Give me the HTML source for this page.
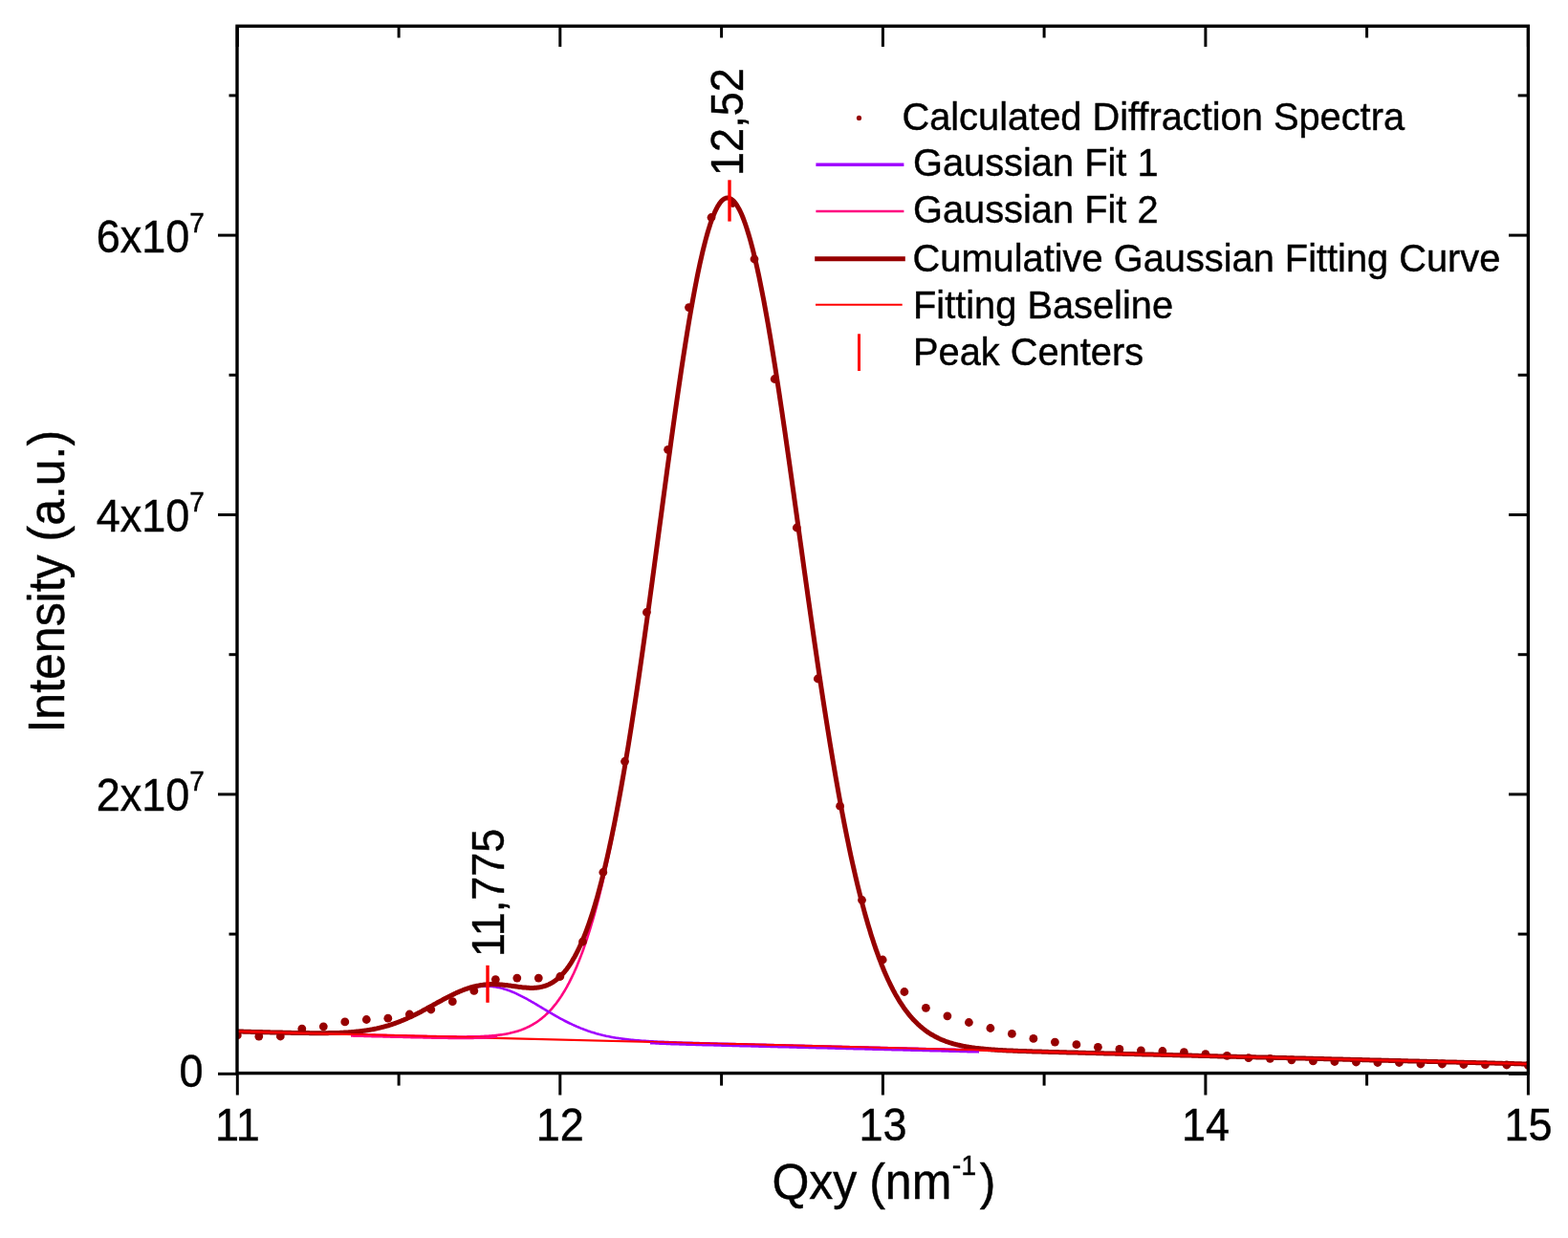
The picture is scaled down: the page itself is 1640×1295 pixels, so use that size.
<!DOCTYPE html>
<html><head><meta charset="utf-8"><title>Gaussian fit</title>
<style>html,body{margin:0;padding:0;background:#fff;}svg{display:block;}</style>
</head><body>
<svg width="1640" height="1295" viewBox="0 0 1640 1295">
<style>text{stroke:#000;stroke-width:0.4px;}</style>
<rect width="1640" height="1295" fill="#fff"/>
<defs><clipPath id="pc"><rect x="248.0" y="27.3" width="1350.4" height="1095.3"/></clipPath></defs>
<g clip-path="url(#pc)" fill="none" stroke-linejoin="round">
<path d="M367.0,1082.0 L368.0,1082.0 L369.0,1082.0 L370.0,1082.1 L371.0,1082.1 L372.0,1082.1 L373.0,1082.1 L374.0,1082.2 L375.0,1082.2 L376.0,1082.2 L377.0,1082.3 L378.0,1082.3 L379.0,1082.3 L380.0,1082.3 L381.0,1082.4 L382.0,1082.4 L383.0,1082.4 L384.0,1082.4 L385.0,1082.5 L386.0,1082.5 L387.0,1082.5 L388.0,1082.5 L389.0,1082.6 L390.0,1082.6 L391.0,1082.6 L392.0,1082.6 L393.0,1082.7 L394.0,1082.7 L395.0,1082.7 L396.0,1082.7 L397.0,1082.8 L398.0,1082.8 L399.0,1082.8 L400.0,1082.8 L401.0,1082.9 L402.0,1082.9 L403.0,1082.9 L404.0,1082.9 L405.0,1083.0 L406.0,1083.0 L407.0,1083.0 L408.0,1083.0 L409.0,1083.1 L410.0,1083.1 L411.0,1083.1 L412.0,1083.1 L413.0,1083.2 L414.0,1083.2 L415.0,1083.2 L416.0,1083.2 L417.0,1083.3 L418.0,1083.3 L419.0,1083.3 L420.0,1083.3 L421.0,1083.3 L422.0,1083.4 L423.0,1083.4 L424.0,1083.4 L425.0,1083.4 L426.0,1083.5 L427.0,1083.5 L428.0,1083.5 L429.0,1083.5 L430.0,1083.6 L431.0,1083.6 L432.0,1083.6 L433.0,1083.6 L434.0,1083.7 L435.0,1083.7 L436.0,1083.7 L437.0,1083.7 L438.0,1083.8 L439.0,1083.8 L440.0,1083.8 L441.0,1083.8 L442.0,1083.8 L443.0,1083.9 L444.0,1083.9 L445.0,1083.9 L446.0,1083.9 L447.0,1084.0 L448.0,1084.0 L449.0,1084.0 L450.0,1084.0 L451.0,1084.0 L452.0,1084.1 L453.0,1084.1 L454.0,1084.1 L455.0,1084.1 L456.0,1084.1 L457.0,1084.2 L458.0,1084.2 L459.0,1084.2 L460.0,1084.2 L461.0,1084.2 L462.0,1084.3 L463.0,1084.3 L464.0,1084.3 L465.0,1084.3 L466.0,1084.3 L467.0,1084.3 L468.0,1084.3 L469.0,1084.4 L470.0,1084.4 L471.0,1084.4 L472.0,1084.4 L473.0,1084.4 L474.0,1084.4 L475.0,1084.4 L476.0,1084.4 L477.0,1084.4 L478.0,1084.5 L479.0,1084.5 L480.0,1084.5 L481.0,1084.5 L482.0,1084.5 L483.0,1084.5 L484.0,1084.5 L485.0,1084.5 L486.0,1084.5 L487.0,1084.5 L488.0,1084.5 L489.0,1084.4 L490.0,1084.4 L491.0,1084.4 L492.0,1084.4 L493.0,1084.4 L494.0,1084.4 L495.0,1084.4 L496.0,1084.3 L497.0,1084.3 L498.0,1084.3 L499.0,1084.3 L500.0,1084.2 L501.0,1084.2 L502.0,1084.2 L503.0,1084.1 L504.0,1084.1 L505.0,1084.0 L506.0,1084.0 L507.0,1083.9 L508.0,1083.9 L509.0,1083.8 L510.0,1083.8 L511.0,1083.7 L512.0,1083.6 L513.0,1083.5 L514.0,1083.5 L515.0,1083.4 L516.0,1083.3 L517.0,1083.2 L518.0,1083.1 L519.0,1083.0 L520.0,1082.9 L521.0,1082.8 L522.0,1082.6 L523.0,1082.5 L524.0,1082.4 L525.0,1082.2 L526.0,1082.1 L527.0,1081.9 L528.0,1081.7 L529.0,1081.6 L530.0,1081.4 L531.0,1081.2 L532.0,1081.0 L533.0,1080.8 L534.0,1080.5 L535.0,1080.3 L536.0,1080.1 L537.0,1079.8 L538.0,1079.6 L539.0,1079.3 L540.0,1079.0 L541.0,1078.7 L542.0,1078.4 L543.0,1078.1 L544.0,1077.7 L545.0,1077.4 L546.0,1077.0 L547.0,1076.6 L548.0,1076.2 L549.0,1075.8 L550.0,1075.4 L551.0,1074.9 L552.0,1074.4 L553.0,1074.0 L554.0,1073.5 L555.0,1072.9 L556.0,1072.4 L557.0,1071.8 L558.0,1071.2 L559.0,1070.6 L560.0,1070.0 L561.0,1069.4 L562.0,1068.7 L563.0,1068.0 L564.0,1067.3 L565.0,1066.5 L566.0,1065.7 L567.0,1064.9 L568.0,1064.1 L569.0,1063.2 L570.0,1062.4 L571.0,1061.4 L572.0,1060.5 L573.0,1059.5 L574.0,1058.5 L575.0,1057.5 L576.0,1056.4 L577.0,1055.3 L578.0,1054.1 L579.0,1052.9 L580.0,1051.7 L581.0,1050.5 L582.0,1049.2 L583.0,1047.8 L584.0,1046.4 L585.0,1045.0 L586.0,1043.6 L587.0,1042.1 L588.0,1040.5 L589.0,1038.9 L590.0,1037.3 L591.0,1035.6 L592.0,1033.9 L593.0,1032.1 L594.0,1030.2 L595.0,1028.4 L596.0,1026.4 L597.0,1024.4 L598.0,1022.4 L599.0,1020.3 L600.0,1018.2 L601.0,1015.9 L602.0,1013.7 L603.0,1011.4 L604.0,1009.0 L605.0,1006.6 L606.0,1004.1 L607.0,1001.5 L608.0,998.9 L609.0,996.2 L610.0,993.5 L611.0,990.6 L612.0,987.8 L613.0,984.8 L614.0,981.8 L615.0,978.7 L616.0,975.6 L617.0,972.4 L618.0,969.1 L619.0,965.7 L620.0,962.3 L621.0,958.8 L622.0,955.3 L623.0,951.6 L624.0,947.9 L625.0,944.1 L626.0,940.3 L627.0,936.3 L628.0,932.3 L629.0,928.2 L630.0,924.0 L631.0,919.8 L632.0,915.5 L633.0,911.1 L634.0,906.6 L635.0,902.1 L636.0,897.5 L637.0,892.7 L638.0,888.0 L639.0,883.1 L640.0,878.2 L641.0,873.2 L642.0,868.1 L643.0,862.9 L644.0,857.7 L645.0,852.3 L646.0,846.9 L647.0,841.5 L648.0,835.9 L649.0,830.3 L650.0,824.6 L651.0,818.8 L652.0,813.0 L653.0,807.1 L654.0,801.1 L655.0,795.0 L656.0,788.9 L657.0,782.7 L658.0,776.5 L659.0,770.1 L660.0,763.8 L661.0,757.3 L662.0,750.8 L663.0,744.2 L664.0,737.6 L665.0,730.9 L666.0,724.1 L667.0,717.3 L668.0,710.4 L669.0,703.5 L670.0,696.6 L671.0,689.5 L672.0,682.5 L673.0,675.4 L674.0,668.2 L675.0,661.1 L676.0,653.8 L677.0,646.6 L678.0,639.3 L679.0,632.0 L680.0,624.6 L681.0,617.2 L682.0,609.8 L683.0,602.4 L684.0,595.0 L685.0,587.5 L686.0,580.1 L687.0,572.6 L688.0,565.1 L689.0,557.6 L690.0,550.1 L691.0,542.6 L692.0,535.1 L693.0,527.7 L694.0,520.2 L695.0,512.7 L696.0,505.3 L697.0,497.9 L698.0,490.5 L699.0,483.1 L700.0,475.8" stroke="#FF0080" stroke-width="2.6"/>
<path d="M420.0,1067.8 L421.0,1067.4 L422.0,1067.0 L423.0,1066.6 L424.0,1066.1 L425.0,1065.7 L426.0,1065.3 L427.0,1064.8 L428.0,1064.3 L429.0,1063.9 L430.0,1063.4 L431.0,1062.9 L432.0,1062.5 L433.0,1062.0 L434.0,1061.5 L435.0,1061.0 L436.0,1060.5 L437.0,1060.0 L438.0,1059.5 L439.0,1059.0 L440.0,1058.4 L441.0,1057.9 L442.0,1057.4 L443.0,1056.9 L444.0,1056.3 L445.0,1055.8 L446.0,1055.2 L447.0,1054.7 L448.0,1054.2 L449.0,1053.6 L450.0,1053.1 L451.0,1052.5 L452.0,1052.0 L453.0,1051.4 L454.0,1050.9 L455.0,1050.3 L456.0,1049.8 L457.0,1049.2 L458.0,1048.7 L459.0,1048.1 L460.0,1047.6 L461.0,1047.0 L462.0,1046.5 L463.0,1046.0 L464.0,1045.5 L465.0,1044.9 L466.0,1044.4 L467.0,1043.9 L468.0,1043.4 L469.0,1042.9 L470.0,1042.4 L471.0,1041.9 L472.0,1041.4 L473.0,1040.9 L474.0,1040.5 L475.0,1040.0 L476.0,1039.5 L477.0,1039.1 L478.0,1038.7 L479.0,1038.2 L480.0,1037.8 L481.0,1037.4 L482.0,1037.0 L483.0,1036.7 L484.0,1036.3 L485.0,1035.9 L486.0,1035.6 L487.0,1035.2 L488.0,1034.9 L489.0,1034.6 L490.0,1034.3 L491.0,1034.0 L492.0,1033.8 L493.0,1033.5 L494.0,1033.3 L495.0,1033.1 L496.0,1032.9 L497.0,1032.7 L498.0,1032.5 L499.0,1032.3 L500.0,1032.2 L501.0,1032.0 L502.0,1031.9 L503.0,1031.8 L504.0,1031.7 L505.0,1031.7 L506.0,1031.6 L507.0,1031.6 L508.0,1031.6 L509.0,1031.6 L510.0,1031.6 L511.0,1031.6 L512.0,1031.7 L513.0,1031.8 L514.0,1031.8 L515.0,1031.9 L516.0,1032.1 L517.0,1032.2 L518.0,1032.3 L519.0,1032.5 L520.0,1032.7 L521.0,1032.9 L522.0,1033.1 L523.0,1033.3 L524.0,1033.6 L525.0,1033.8 L526.0,1034.1 L527.0,1034.4 L528.0,1034.7 L529.0,1035.0 L530.0,1035.3 L531.0,1035.7 L532.0,1036.0 L533.0,1036.4 L534.0,1036.8 L535.0,1037.2 L536.0,1037.6 L537.0,1038.0 L538.0,1038.4 L539.0,1038.9 L540.0,1039.3 L541.0,1039.8 L542.0,1040.3 L543.0,1040.8 L544.0,1041.3 L545.0,1041.8 L546.0,1042.3 L547.0,1042.8 L548.0,1043.3 L549.0,1043.9 L550.0,1044.4 L551.0,1044.9 L552.0,1045.5 L553.0,1046.1 L554.0,1046.6 L555.0,1047.2 L556.0,1047.8 L557.0,1048.3 L558.0,1048.9 L559.0,1049.5 L560.0,1050.1 L561.0,1050.7 L562.0,1051.3 L563.0,1051.9 L564.0,1052.5 L565.0,1053.1 L566.0,1053.7 L567.0,1054.3 L568.0,1054.9 L569.0,1055.5 L570.0,1056.1 L571.0,1056.7 L572.0,1057.3 L573.0,1057.9 L574.0,1058.5 L575.0,1059.1 L576.0,1059.6 L577.0,1060.2 L578.0,1060.8 L579.0,1061.4 L580.0,1062.0 L581.0,1062.5 L582.0,1063.1 L583.0,1063.7 L584.0,1064.2 L585.0,1064.8 L586.0,1065.3 L587.0,1065.9 L588.0,1066.4 L589.0,1066.9 L590.0,1067.5 L591.0,1068.0 L592.0,1068.5 L593.0,1069.0 L594.0,1069.5 L595.0,1070.0 L596.0,1070.5 L597.0,1070.9 L598.0,1071.4 L599.0,1071.9 L600.0,1072.3 L601.0,1072.8 L602.0,1073.2 L603.0,1073.7 L604.0,1074.1 L605.0,1074.5 L606.0,1074.9 L607.0,1075.4 L608.0,1075.8 L609.0,1076.1 L610.0,1076.5 L611.0,1076.9 L612.0,1077.3 L613.0,1077.6 L614.0,1078.0 L615.0,1078.4 L616.0,1078.7 L617.0,1079.0 L618.0,1079.4 L619.0,1079.7 L620.0,1080.0 L621.0,1080.3 L622.0,1080.6 L623.0,1080.9 L624.0,1081.2 L625.0,1081.4 L626.0,1081.7 L627.0,1082.0 L628.0,1082.2 L629.0,1082.5 L630.0,1082.7 L631.0,1083.0 L632.0,1083.2 L633.0,1083.4 L634.0,1083.7 L635.0,1083.9 L636.0,1084.1 L637.0,1084.3 L638.0,1084.5 L639.0,1084.7 L640.0,1084.9 L641.0,1085.1 L642.0,1085.2 L643.0,1085.4 L644.0,1085.6 L645.0,1085.7 L646.0,1085.9 L647.0,1086.0 L648.0,1086.2 L649.0,1086.3 L650.0,1086.5 L651.0,1086.6 L652.0,1086.8 L653.0,1086.9 L654.0,1087.0 L655.0,1087.1 L656.0,1087.3 L657.0,1087.4 L658.0,1087.5 L659.0,1087.6 L660.0,1087.7 L661.0,1087.8 L662.0,1087.9 L663.0,1088.0 L664.0,1088.1 L665.0,1088.2 L666.0,1088.3 L667.0,1088.3 L668.0,1088.4 L669.0,1088.5 L670.0,1088.6 L671.0,1088.7 L672.0,1088.7 L673.0,1088.8 L674.0,1088.9 L675.0,1088.9 L676.0,1089.0 L677.0,1089.1 L678.0,1089.1 L679.0,1089.2 L680.0,1089.3 L681.0,1089.3 L682.0,1089.4 L683.0,1089.4 L684.0,1089.5 L685.0,1089.5 L686.0,1089.6 L687.0,1089.6 L688.0,1089.7 L689.0,1089.7 L690.0,1089.8 L691.0,1089.8 L692.0,1089.9 L693.0,1089.9 L694.0,1089.9 L695.0,1090.0 L696.0,1090.0 L697.0,1090.1 L698.0,1090.1 L699.0,1090.1 L700.0,1090.2 L701.0,1090.2 L702.0,1090.3 L703.0,1090.3 L704.0,1090.3 L705.0,1090.4 L706.0,1090.4 L707.0,1090.4 L708.0,1090.5 L709.0,1090.5 L710.0,1090.5 L711.0,1090.6 L712.0,1090.6 L713.0,1090.6 L714.0,1090.7 L715.0,1090.7 L716.0,1090.7 L717.0,1090.7 L718.0,1090.8 L719.0,1090.8 L720.0,1090.8 L721.0,1090.9 L722.0,1090.9 L723.0,1090.9 L724.0,1090.9 L725.0,1091.0 L726.0,1091.0 L727.0,1091.0 L728.0,1091.1 L729.0,1091.1 L730.0,1091.1 L731.0,1091.1 L732.0,1091.2 L733.0,1091.2 L734.0,1091.2 L735.0,1091.3 L736.0,1091.3 L737.0,1091.3 L738.0,1091.3 L739.0,1091.4 L740.0,1091.4 L741.0,1091.4 L742.0,1091.4 L743.0,1091.5 L744.0,1091.5 L745.0,1091.5 L746.0,1091.5 L747.0,1091.6 L748.0,1091.6 L749.0,1091.6 L750.0,1091.6 L751.0,1091.7 L752.0,1091.7 L753.0,1091.7 L754.0,1091.7 L755.0,1091.8 L756.0,1091.8 L757.0,1091.8 L758.0,1091.8 L759.0,1091.9 L760.0,1091.9 L761.0,1091.9 L762.0,1091.9 L763.0,1092.0 L764.0,1092.0 L765.0,1092.0 L766.0,1092.1 L767.0,1092.1 L768.0,1092.1 L769.0,1092.1 L770.0,1092.2 L771.0,1092.2 L772.0,1092.2 L773.0,1092.2 L774.0,1092.3 L775.0,1092.3 L776.0,1092.3 L777.0,1092.3 L778.0,1092.4 L779.0,1092.4 L780.0,1092.4 L781.0,1092.4 L782.0,1092.5 L783.0,1092.5 L784.0,1092.5 L785.0,1092.5 L786.0,1092.6 L787.0,1092.6 L788.0,1092.6 L789.0,1092.6 L790.0,1092.7 L791.0,1092.7 L792.0,1092.7 L793.0,1092.7 L794.0,1092.8 L795.0,1092.8 L796.0,1092.8 L797.0,1092.8 L798.0,1092.9 L799.0,1092.9 L800.0,1092.9 L801.0,1092.9 L802.0,1093.0 L803.0,1093.0 L804.0,1093.0 L805.0,1093.0 L806.0,1093.1 L807.0,1093.1 L808.0,1093.1 L809.0,1093.1 L810.0,1093.2 L811.0,1093.2 L812.0,1093.2 L813.0,1093.2 L814.0,1093.3 L815.0,1093.3 L816.0,1093.3 L817.0,1093.3 L818.0,1093.4 L819.0,1093.4 L820.0,1093.4 L821.0,1093.4 L822.0,1093.5 L823.0,1093.5 L824.0,1093.5 L825.0,1093.5 L826.0,1093.6 L827.0,1093.6 L828.0,1093.6 L829.0,1093.6 L830.0,1093.7 L831.0,1093.7 L832.0,1093.7 L833.0,1093.7 L834.0,1093.8 L835.0,1093.8 L836.0,1093.8 L837.0,1093.8 L838.0,1093.9 L839.0,1093.9 L840.0,1093.9 L841.0,1093.9 L842.0,1094.0 L843.0,1094.0 L844.0,1094.0 L845.0,1094.0 L846.0,1094.1 L847.0,1094.1 L848.0,1094.1 L849.0,1094.1 L850.0,1094.2 L851.0,1094.2 L852.0,1094.2 L853.0,1094.2 L854.0,1094.3 L855.0,1094.3 L856.0,1094.3 L857.0,1094.3 L858.0,1094.4 L859.0,1094.4 L860.0,1094.4 L861.0,1094.4 L862.0,1094.5 L863.0,1094.5 L864.0,1094.5 L865.0,1094.5 L866.0,1094.6 L867.0,1094.6 L868.0,1094.6 L869.0,1094.6 L870.0,1094.7 L871.0,1094.7 L872.0,1094.7 L873.0,1094.7 L874.0,1094.8 L875.0,1094.8 L876.0,1094.8 L877.0,1094.9 L878.0,1094.9 L879.0,1094.9 L880.0,1094.9 L881.0,1095.0 L882.0,1095.0 L883.0,1095.0 L884.0,1095.0 L885.0,1095.1 L886.0,1095.1 L887.0,1095.1 L888.0,1095.1 L889.0,1095.2 L890.0,1095.2 L891.0,1095.2 L892.0,1095.2 L893.0,1095.3 L894.0,1095.3 L895.0,1095.3 L896.0,1095.3 L897.0,1095.4 L898.0,1095.4 L899.0,1095.4 L900.0,1095.4 L901.0,1095.5 L902.0,1095.5 L903.0,1095.5 L904.0,1095.5 L905.0,1095.6 L906.0,1095.6 L907.0,1095.6 L908.0,1095.6 L909.0,1095.7 L910.0,1095.7 L911.0,1095.7 L912.0,1095.7 L913.0,1095.8 L914.0,1095.8 L915.0,1095.8 L916.0,1095.8 L917.0,1095.9 L918.0,1095.9 L919.0,1095.9 L920.0,1095.9 L921.0,1096.0 L922.0,1096.0 L923.0,1096.0 L924.0,1096.0 L925.0,1096.1 L926.0,1096.1 L927.0,1096.1 L928.0,1096.1 L929.0,1096.2 L930.0,1096.2 L931.0,1096.2 L932.0,1096.2 L933.0,1096.3 L934.0,1096.3 L935.0,1096.3 L936.0,1096.3 L937.0,1096.4 L938.0,1096.4 L939.0,1096.4 L940.0,1096.4 L941.0,1096.5 L942.0,1096.5 L943.0,1096.5 L944.0,1096.5 L945.0,1096.6 L946.0,1096.6 L947.0,1096.6 L948.0,1096.6 L949.0,1096.7 L950.0,1096.7 L951.0,1096.7 L952.0,1096.7 L953.0,1096.8 L954.0,1096.8 L955.0,1096.8 L956.0,1096.8 L957.0,1096.9 L958.0,1096.9 L959.0,1096.9 L960.0,1096.9 L961.0,1097.0 L962.0,1097.0 L963.0,1097.0 L964.0,1097.0 L965.0,1097.1 L966.0,1097.1 L967.0,1097.1 L968.0,1097.1 L969.0,1097.2 L970.0,1097.2 L971.0,1097.2 L972.0,1097.2 L973.0,1097.3 L974.0,1097.3 L975.0,1097.3 L976.0,1097.3 L977.0,1097.4 L978.0,1097.4 L979.0,1097.4 L980.0,1097.4 L981.0,1097.5 L982.0,1097.5 L983.0,1097.5 L984.0,1097.5 L985.0,1097.6 L986.0,1097.6 L987.0,1097.6 L988.0,1097.6 L989.0,1097.7 L990.0,1097.7 L991.0,1097.7 L992.0,1097.7 L993.0,1097.8 L994.0,1097.8 L995.0,1097.8 L996.0,1097.8 L997.0,1097.9 L998.0,1097.9 L999.0,1097.9 L1000.0,1098.0 L1001.0,1098.0 L1002.0,1098.0 L1003.0,1098.0 L1004.0,1098.1 L1005.0,1098.1 L1006.0,1098.1 L1007.0,1098.1 L1008.0,1098.2 L1009.0,1098.2 L1010.0,1098.2 L1011.0,1098.2 L1012.0,1098.3 L1013.0,1098.3 L1014.0,1098.3 L1015.0,1098.3 L1016.0,1098.4 L1017.0,1098.4 L1018.0,1098.4 L1019.0,1098.4 L1020.0,1098.5 L1021.0,1098.5 L1022.0,1098.5 L1023.0,1098.5 L1024.0,1098.6" stroke="#A000FF" stroke-width="2.6"/>
</g>
<g fill="#960000" clip-path="url(#pc)">
<circle cx="248.3" cy="1083.0" r="4.4"/>
<circle cx="270.8" cy="1084.1" r="4.4"/>
<circle cx="293.3" cy="1084.0" r="4.4"/>
<circle cx="315.8" cy="1076.2" r="4.4"/>
<circle cx="338.3" cy="1073.8" r="4.4"/>
<circle cx="360.8" cy="1068.9" r="4.4"/>
<circle cx="383.3" cy="1066.5" r="4.4"/>
<circle cx="405.8" cy="1065.2" r="4.4"/>
<circle cx="428.3" cy="1061.0" r="4.4"/>
<circle cx="450.8" cy="1056.0" r="4.4"/>
<circle cx="473.3" cy="1047.7" r="4.4"/>
<circle cx="495.8" cy="1036.4" r="4.4"/>
<circle cx="518.3" cy="1024.6" r="4.4"/>
<circle cx="540.8" cy="1023.1" r="4.4"/>
<circle cx="563.3" cy="1023.1" r="4.4"/>
<circle cx="585.8" cy="1021.5" r="4.4"/>
<circle cx="609.5" cy="985.0" r="4.4"/>
<circle cx="630.8" cy="912.5" r="4.4"/>
<circle cx="653.5" cy="796.5" r="4.4"/>
<circle cx="676.4" cy="640.5" r="4.4"/>
<circle cx="698.6" cy="470.3" r="4.4"/>
<circle cx="720.5" cy="321.6" r="4.4"/>
<circle cx="744.0" cy="227.5" r="4.4"/>
<circle cx="766.3" cy="212.5" r="4.4"/>
<circle cx="789.0" cy="271.0" r="4.4"/>
<circle cx="810.2" cy="396.5" r="4.4"/>
<circle cx="833.3" cy="552.0" r="4.4"/>
<circle cx="855.3" cy="710.0" r="4.4"/>
<circle cx="878.6" cy="843.2" r="4.4"/>
<circle cx="901.5" cy="941.5" r="4.4"/>
<circle cx="923.2" cy="1004.0" r="4.4"/>
<circle cx="945.9" cy="1037.5" r="4.4"/>
<circle cx="968.4" cy="1054.3" r="4.4"/>
<circle cx="990.9" cy="1062.8" r="4.4"/>
<circle cx="1013.4" cy="1069.5" r="4.4"/>
<circle cx="1035.9" cy="1075.5" r="4.4"/>
<circle cx="1058.4" cy="1081.4" r="4.4"/>
<circle cx="1080.9" cy="1086.4" r="4.4"/>
<circle cx="1103.4" cy="1090.1" r="4.4"/>
<circle cx="1125.9" cy="1092.7" r="4.4"/>
<circle cx="1148.4" cy="1095.3" r="4.4"/>
<circle cx="1170.9" cy="1097.4" r="4.4"/>
<circle cx="1193.4" cy="1098.8" r="4.4"/>
<circle cx="1215.9" cy="1099.5" r="4.4"/>
<circle cx="1238.4" cy="1100.7" r="4.4"/>
<circle cx="1260.9" cy="1102.7" r="4.4"/>
<circle cx="1283.4" cy="1104.4" r="4.4"/>
<circle cx="1305.9" cy="1106.7" r="4.4"/>
<circle cx="1328.4" cy="1107.3" r="4.4"/>
<circle cx="1350.9" cy="1108.8" r="4.4"/>
<circle cx="1373.4" cy="1109.9" r="4.4"/>
<circle cx="1395.9" cy="1110.5" r="4.4"/>
<circle cx="1418.4" cy="1111.0" r="4.4"/>
<circle cx="1440.9" cy="1111.5" r="4.4"/>
<circle cx="1463.4" cy="1111.5" r="4.4"/>
<circle cx="1485.9" cy="1113.0" r="4.4"/>
<circle cx="1508.4" cy="1113.0" r="4.4"/>
<circle cx="1530.9" cy="1113.5" r="4.4"/>
<circle cx="1553.4" cy="1113.7" r="4.4"/>
<circle cx="1575.9" cy="1114.0" r="4.4"/>
<circle cx="1598.4" cy="1114.5" r="4.4"/>
</g>
<g clip-path="url(#pc)" fill="none" stroke-linejoin="round">
<path d="M248.0,1079.0 L249.0,1079.0 L250.0,1079.0 L251.0,1079.1 L252.0,1079.1 L253.0,1079.1 L254.0,1079.1 L255.0,1079.2 L256.0,1079.2 L257.0,1079.2 L258.0,1079.2 L259.0,1079.3 L260.0,1079.3 L261.0,1079.3 L262.0,1079.3 L263.0,1079.4 L264.0,1079.4 L265.0,1079.4 L266.0,1079.4 L267.0,1079.5 L268.0,1079.5 L269.0,1079.5 L270.0,1079.5 L271.0,1079.6 L272.0,1079.6 L273.0,1079.6 L274.0,1079.6 L275.0,1079.7 L276.0,1079.7 L277.0,1079.7 L278.0,1079.7 L279.0,1079.8 L280.0,1079.8 L281.0,1079.8 L282.0,1079.8 L283.0,1079.9 L284.0,1079.9 L285.0,1079.9 L286.0,1079.9 L287.0,1080.0 L288.0,1080.0 L289.0,1080.0 L290.0,1080.0 L291.0,1080.0 L292.0,1080.1 L293.0,1080.1 L294.0,1080.1 L295.0,1080.1 L296.0,1080.2 L297.0,1080.2 L298.0,1080.2 L299.0,1080.2 L300.0,1080.2 L301.0,1080.3 L302.0,1080.3 L303.0,1080.3 L304.0,1080.3 L305.0,1080.4 L306.0,1080.4 L307.0,1080.4 L308.0,1080.4 L309.0,1080.4 L310.0,1080.4 L311.0,1080.5 L312.0,1080.5 L313.0,1080.5 L314.0,1080.5 L315.0,1080.5 L316.0,1080.5 L317.0,1080.6 L318.0,1080.6 L319.0,1080.6 L320.0,1080.6 L321.0,1080.6 L322.0,1080.6 L323.0,1080.6 L324.0,1080.7 L325.0,1080.7 L326.0,1080.7 L327.0,1080.7 L328.0,1080.7 L329.0,1080.7 L330.0,1080.7 L331.0,1080.7 L332.0,1080.7 L333.0,1080.7 L334.0,1080.7 L335.0,1080.7 L336.0,1080.7 L337.0,1080.7 L338.0,1080.7 L339.0,1080.7 L340.0,1080.7 L341.0,1080.7 L342.0,1080.7 L343.0,1080.7 L344.0,1080.6 L345.0,1080.6 L346.0,1080.6 L347.0,1080.6 L348.0,1080.6 L349.0,1080.5 L350.0,1080.5 L351.0,1080.5 L352.0,1080.5 L353.0,1080.4 L354.0,1080.4 L355.0,1080.4 L356.0,1080.3 L357.0,1080.3 L358.0,1080.2 L359.0,1080.2 L360.0,1080.1 L361.0,1080.1 L362.0,1080.0 L363.0,1080.0 L364.0,1079.9 L365.0,1079.8 L366.0,1079.8 L367.0,1079.7 L368.0,1079.6 L369.0,1079.5 L370.0,1079.4 L371.0,1079.3 L372.0,1079.2 L373.0,1079.1 L374.0,1079.0 L375.0,1078.9 L376.0,1078.8 L377.0,1078.7 L378.0,1078.6 L379.0,1078.5 L380.0,1078.3 L381.0,1078.2 L382.0,1078.0 L383.0,1077.9 L384.0,1077.7 L385.0,1077.6 L386.0,1077.4 L387.0,1077.2 L388.0,1077.1 L389.0,1076.9 L390.0,1076.7 L391.0,1076.5 L392.0,1076.3 L393.0,1076.1 L394.0,1075.9 L395.0,1075.6 L396.0,1075.4 L397.0,1075.2 L398.0,1074.9 L399.0,1074.7 L400.0,1074.4 L401.0,1074.2 L402.0,1073.9 L403.0,1073.6 L404.0,1073.3 L405.0,1073.1 L406.0,1072.8 L407.0,1072.5 L408.0,1072.1 L409.0,1071.8 L410.0,1071.5 L411.0,1071.2 L412.0,1070.8 L413.0,1070.5 L414.0,1070.1 L415.0,1069.7 L416.0,1069.4 L417.0,1069.0 L418.0,1068.6 L419.0,1068.2 L420.0,1067.8 L421.0,1067.4 L422.0,1067.0 L423.0,1066.6 L424.0,1066.1 L425.0,1065.7 L426.0,1065.2 L427.0,1064.8 L428.0,1064.3 L429.0,1063.9 L430.0,1063.4 L431.0,1062.9 L432.0,1062.4 L433.0,1062.0 L434.0,1061.5 L435.0,1061.0 L436.0,1060.5 L437.0,1060.0 L438.0,1059.4 L439.0,1058.9 L440.0,1058.4 L441.0,1057.9 L442.0,1057.3 L443.0,1056.8 L444.0,1056.3 L445.0,1055.7 L446.0,1055.2 L447.0,1054.6 L448.0,1054.1 L449.0,1053.5 L450.0,1053.0 L451.0,1052.4 L452.0,1051.9 L453.0,1051.3 L454.0,1050.8 L455.0,1050.2 L456.0,1049.7 L457.0,1049.1 L458.0,1048.6 L459.0,1048.0 L460.0,1047.5 L461.0,1046.9 L462.0,1046.4 L463.0,1045.8 L464.0,1045.3 L465.0,1044.8 L466.0,1044.2 L467.0,1043.7 L468.0,1043.2 L469.0,1042.7 L470.0,1042.2 L471.0,1041.7 L472.0,1041.2 L473.0,1040.7 L474.0,1040.2 L475.0,1039.7 L476.0,1039.2 L477.0,1038.8 L478.0,1038.3 L479.0,1037.9 L480.0,1037.4 L481.0,1037.0 L482.0,1036.6 L483.0,1036.2 L484.0,1035.8 L485.0,1035.4 L486.0,1035.0 L487.0,1034.7 L488.0,1034.3 L489.0,1034.0 L490.0,1033.7 L491.0,1033.3 L492.0,1033.0 L493.0,1032.7 L494.0,1032.5 L495.0,1032.2 L496.0,1031.9 L497.0,1031.7 L498.0,1031.5 L499.0,1031.3 L500.0,1031.1 L501.0,1030.9 L502.0,1030.7 L503.0,1030.5 L504.0,1030.4 L505.0,1030.3 L506.0,1030.1 L507.0,1030.0 L508.0,1029.9 L509.0,1029.8 L510.0,1029.8 L511.0,1029.7 L512.0,1029.7 L513.0,1029.6 L514.0,1029.6 L515.0,1029.6 L516.0,1029.6 L517.0,1029.6 L518.0,1029.6 L519.0,1029.7 L520.0,1029.7 L521.0,1029.8 L522.0,1029.8 L523.0,1029.9 L524.0,1030.0 L525.0,1030.1 L526.0,1030.2 L527.0,1030.3 L528.0,1030.4 L529.0,1030.5 L530.0,1030.6 L531.0,1030.7 L532.0,1030.9 L533.0,1031.0 L534.0,1031.1 L535.0,1031.3 L536.0,1031.4 L537.0,1031.6 L538.0,1031.7 L539.0,1031.8 L540.0,1032.0 L541.0,1032.1 L542.0,1032.3 L543.0,1032.4 L544.0,1032.5 L545.0,1032.6 L546.0,1032.8 L547.0,1032.9 L548.0,1033.0 L549.0,1033.1 L550.0,1033.1 L551.0,1033.2 L552.0,1033.3 L553.0,1033.3 L554.0,1033.4 L555.0,1033.4 L556.0,1033.4 L557.0,1033.4 L558.0,1033.4 L559.0,1033.3 L560.0,1033.3 L561.0,1033.2 L562.0,1033.1 L563.0,1032.9 L564.0,1032.8 L565.0,1032.6 L566.0,1032.4 L567.0,1032.2 L568.0,1031.9 L569.0,1031.6 L570.0,1031.3 L571.0,1031.0 L572.0,1030.6 L573.0,1030.2 L574.0,1029.8 L575.0,1029.3 L576.0,1028.8 L577.0,1028.2 L578.0,1027.6 L579.0,1027.0 L580.0,1026.3 L581.0,1025.6 L582.0,1024.8 L583.0,1024.0 L584.0,1023.2 L585.0,1022.3 L586.0,1021.4 L587.0,1020.4 L588.0,1019.3 L589.0,1018.2 L590.0,1017.1 L591.0,1015.9 L592.0,1014.7 L593.0,1013.4 L594.0,1012.0 L595.0,1010.6 L596.0,1009.1 L597.0,1007.6 L598.0,1006.0 L599.0,1004.3 L600.0,1002.6 L601.0,1000.9 L602.0,999.0 L603.0,997.1 L604.0,995.1 L605.0,993.1 L606.0,991.0 L607.0,988.8 L608.0,986.6 L609.0,984.3 L610.0,981.9 L611.0,979.4 L612.0,976.9 L613.0,974.3 L614.0,971.6 L615.0,968.8 L616.0,966.0 L617.0,963.1 L618.0,960.1 L619.0,957.1 L620.0,953.9 L621.0,950.7 L622.0,947.4 L623.0,944.1 L624.0,940.6 L625.0,937.1 L626.0,933.4 L627.0,929.7 L628.0,926.0 L629.0,922.1 L630.0,918.2 L631.0,914.1 L632.0,910.0 L633.0,905.8 L634.0,901.6 L635.0,897.2 L636.0,892.8 L637.0,888.2 L638.0,883.6 L639.0,878.9 L640.0,874.2 L641.0,869.3 L642.0,864.4 L643.0,859.4 L644.0,854.3 L645.0,849.1 L646.0,843.8 L647.0,838.5 L648.0,833.0 L649.0,827.5 L650.0,822.0 L651.0,816.3 L652.0,810.6 L653.0,804.8 L654.0,798.9 L655.0,792.9 L656.0,786.9 L657.0,780.8 L658.0,774.6 L659.0,768.4 L660.0,762.1 L661.0,755.7 L662.0,749.2 L663.0,742.7 L664.0,736.2 L665.0,729.5 L666.0,722.8 L667.0,716.1 L668.0,709.3 L669.0,702.4 L670.0,695.5 L671.0,688.5 L672.0,681.5 L673.0,674.5 L674.0,667.4 L675.0,660.2 L676.0,653.1 L677.0,645.8 L678.0,638.6 L679.0,631.3 L680.0,624.0 L681.0,616.6 L682.0,609.3 L683.0,601.9 L684.0,594.5 L685.0,587.0 L686.0,579.6 L687.0,572.1 L688.0,564.7 L689.0,557.2 L690.0,549.7 L691.0,542.3 L692.0,534.8 L693.0,527.3 L694.0,519.9 L695.0,512.5 L696.0,505.0 L697.0,497.6 L698.0,490.2 L699.0,482.9 L700.0,475.6 L701.0,468.3 L702.0,461.0 L703.0,453.8 L704.0,446.6 L705.0,439.5 L706.0,432.4 L707.0,425.4 L708.0,418.4 L709.0,411.5 L710.0,404.6 L711.0,397.8 L712.0,391.1 L713.0,384.4 L714.0,377.9 L715.0,371.4 L716.0,365.0 L717.0,358.6 L718.0,352.4 L719.0,346.2 L720.0,340.2 L721.0,334.2 L722.0,328.4 L723.0,322.6 L724.0,317.0 L725.0,311.5 L726.0,306.1 L727.0,300.8 L728.0,295.6 L729.0,290.5 L730.0,285.6 L731.0,280.8 L732.0,276.1 L733.0,271.6 L734.0,267.2 L735.0,262.9 L736.0,258.8 L737.0,254.9 L738.0,251.0 L739.0,247.3 L740.0,243.8 L741.0,240.4 L742.0,237.2 L743.0,234.1 L744.0,231.2 L745.0,228.4 L746.0,225.9 L747.0,223.4 L748.0,221.1 L749.0,219.0 L750.0,217.1 L751.0,215.3 L752.0,213.7 L753.0,212.3 L754.0,211.0 L755.0,209.9 L756.0,209.0 L757.0,208.3 L758.0,207.7 L759.0,207.3 L760.0,207.1 L761.0,207.0 L762.0,207.1 L763.0,207.4 L764.0,207.8 L765.0,208.4 L766.0,209.2 L767.0,210.1 L768.0,211.1 L769.0,212.3 L770.0,213.7 L771.0,215.2 L772.0,216.9 L773.0,218.7 L774.0,220.7 L775.0,222.8 L776.0,225.1 L777.0,227.5 L778.0,230.1 L779.0,232.8 L780.0,235.7 L781.0,238.7 L782.0,241.9 L783.0,245.2 L784.0,248.6 L785.0,252.2 L786.0,255.9 L787.0,259.7 L788.0,263.7 L789.0,267.8 L790.0,272.0 L791.0,276.3 L792.0,280.8 L793.0,285.4 L794.0,290.1 L795.0,294.9 L796.0,299.9 L797.0,304.9 L798.0,310.1 L799.0,315.3 L800.0,320.7 L801.0,326.2 L802.0,331.7 L803.0,337.4 L804.0,343.1 L805.0,349.0 L806.0,354.9 L807.0,360.9 L808.0,367.0 L809.0,373.1 L810.0,379.4 L811.0,385.7 L812.0,392.1 L813.0,398.6 L814.0,405.1 L815.0,411.6 L816.0,418.3 L817.0,425.0 L818.0,431.7 L819.0,438.5 L820.0,445.4 L821.0,452.2 L822.0,459.2 L823.0,466.1 L824.0,473.1 L825.0,480.2 L826.0,487.2 L827.0,494.3 L828.0,501.4 L829.0,508.6 L830.0,515.7 L831.0,522.9 L832.0,530.0 L833.0,537.2 L834.0,544.4 L835.0,551.6 L836.0,558.8 L837.0,566.0 L838.0,573.2 L839.0,580.4 L840.0,587.6 L841.0,594.8 L842.0,601.9 L843.0,609.1 L844.0,616.2 L845.0,623.3 L846.0,630.4 L847.0,637.4 L848.0,644.5 L849.0,651.5 L850.0,658.5 L851.0,665.4 L852.0,672.3 L853.0,679.2 L854.0,686.0 L855.0,692.8 L856.0,699.6 L857.0,706.3 L858.0,712.9 L859.0,719.6 L860.0,726.1 L861.0,732.6 L862.0,739.1 L863.0,745.5 L864.0,751.9 L865.0,758.2 L866.0,764.4 L867.0,770.6 L868.0,776.8 L869.0,782.9 L870.0,788.9 L871.0,794.8 L872.0,800.7 L873.0,806.5 L874.0,812.3 L875.0,818.0 L876.0,823.6 L877.0,829.2 L878.0,834.7 L879.0,840.1 L880.0,845.5 L881.0,850.8 L882.0,856.0 L883.0,861.2 L884.0,866.3 L885.0,871.3 L886.0,876.3 L887.0,881.1 L888.0,885.9 L889.0,890.7 L890.0,895.4 L891.0,900.0 L892.0,904.5 L893.0,908.9 L894.0,913.3 L895.0,917.6 L896.0,921.9 L897.0,926.1 L898.0,930.2 L899.0,934.2 L900.0,938.2 L901.0,942.1 L902.0,945.9 L903.0,949.7 L904.0,953.4 L905.0,957.0 L906.0,960.5 L907.0,964.0 L908.0,967.5 L909.0,970.8 L910.0,974.1 L911.0,977.4 L912.0,980.5 L913.0,983.6 L914.0,986.7 L915.0,989.6 L916.0,992.6 L917.0,995.4 L918.0,998.2 L919.0,1001.0 L920.0,1003.6 L921.0,1006.2 L922.0,1008.8 L923.0,1011.3 L924.0,1013.8 L925.0,1016.2 L926.0,1018.5 L927.0,1020.8 L928.0,1023.0 L929.0,1025.2 L930.0,1027.3 L931.0,1029.4 L932.0,1031.4 L933.0,1033.4 L934.0,1035.4 L935.0,1037.2 L936.0,1039.1 L937.0,1040.9 L938.0,1042.6 L939.0,1044.3 L940.0,1046.0 L941.0,1047.6 L942.0,1049.2 L943.0,1050.7 L944.0,1052.2 L945.0,1053.7 L946.0,1055.1 L947.0,1056.5 L948.0,1057.8 L949.0,1059.1 L950.0,1060.4 L951.0,1061.6 L952.0,1062.8 L953.0,1064.0 L954.0,1065.1 L955.0,1066.2 L956.0,1067.3 L957.0,1068.3 L958.0,1069.3 L959.0,1070.3 L960.0,1071.3 L961.0,1072.2 L962.0,1073.1 L963.0,1074.0 L964.0,1074.8 L965.0,1075.6 L966.0,1076.4 L967.0,1077.2 L968.0,1077.9 L969.0,1078.7 L970.0,1079.4 L971.0,1080.1 L972.0,1080.7 L973.0,1081.4 L974.0,1082.0 L975.0,1082.6 L976.0,1083.1 L977.0,1083.7 L978.0,1084.3 L979.0,1084.8 L980.0,1085.3 L981.0,1085.8 L982.0,1086.3 L983.0,1086.7 L984.0,1087.2 L985.0,1087.6 L986.0,1088.0 L987.0,1088.4 L988.0,1088.8 L989.0,1089.2 L990.0,1089.6 L991.0,1089.9 L992.0,1090.2 L993.0,1090.6 L994.0,1090.9 L995.0,1091.2 L996.0,1091.5 L997.0,1091.8 L998.0,1092.1 L999.0,1092.3 L1000.0,1092.6 L1001.0,1092.8 L1002.0,1093.1 L1003.0,1093.3 L1004.0,1093.5 L1005.0,1093.8 L1006.0,1094.0 L1007.0,1094.2 L1008.0,1094.4 L1009.0,1094.6 L1010.0,1094.7 L1011.0,1094.9 L1012.0,1095.1 L1013.0,1095.2 L1014.0,1095.4 L1015.0,1095.6 L1016.0,1095.7 L1017.0,1095.9 L1018.0,1096.0 L1019.0,1096.1 L1020.0,1096.3 L1021.0,1096.4 L1022.0,1096.5 L1023.0,1096.6 L1024.0,1096.7 L1025.0,1096.8 L1026.0,1096.9 L1027.0,1097.0 L1028.0,1097.1 L1029.0,1097.2 L1030.0,1097.3 L1031.0,1097.4 L1032.0,1097.5 L1033.0,1097.6 L1034.0,1097.7 L1035.0,1097.8 L1036.0,1097.8 L1037.0,1097.9 L1038.0,1098.0 L1039.0,1098.0 L1040.0,1098.1 L1041.0,1098.2 L1042.0,1098.2 L1043.0,1098.3 L1044.0,1098.4 L1045.0,1098.4 L1046.0,1098.5 L1047.0,1098.5 L1048.0,1098.6 L1049.0,1098.7 L1050.0,1098.7 L1051.0,1098.8 L1052.0,1098.8 L1053.0,1098.9 L1054.0,1098.9 L1055.0,1098.9 L1056.0,1099.0 L1057.0,1099.0 L1058.0,1099.1 L1059.0,1099.1 L1060.0,1099.2 L1061.0,1099.2 L1062.0,1099.2 L1063.0,1099.3 L1064.0,1099.3 L1065.0,1099.4 L1066.0,1099.4 L1067.0,1099.4 L1068.0,1099.5 L1069.0,1099.5 L1070.0,1099.5 L1071.0,1099.6 L1072.0,1099.6 L1073.0,1099.6 L1074.0,1099.7 L1075.0,1099.7 L1076.0,1099.7 L1077.0,1099.8 L1078.0,1099.8 L1079.0,1099.8 L1080.0,1099.9 L1081.0,1099.9 L1082.0,1099.9 L1083.0,1100.0 L1084.0,1100.0 L1085.0,1100.0 L1086.0,1100.0 L1087.0,1100.1 L1088.0,1100.1 L1089.0,1100.1 L1090.0,1100.2 L1091.0,1100.2 L1092.0,1100.2 L1093.0,1100.2 L1094.0,1100.3 L1095.0,1100.3 L1096.0,1100.3 L1097.0,1100.4 L1098.0,1100.4 L1099.0,1100.4 L1100.0,1100.4 L1101.0,1100.5 L1102.0,1100.5 L1103.0,1100.5 L1104.0,1100.5 L1105.0,1100.6 L1106.0,1100.6 L1107.0,1100.6 L1108.0,1100.7 L1109.0,1100.7 L1110.0,1100.7 L1111.0,1100.7 L1112.0,1100.8 L1113.0,1100.8 L1114.0,1100.8 L1115.0,1100.8 L1116.0,1100.9 L1117.0,1100.9 L1118.0,1100.9 L1119.0,1100.9 L1120.0,1101.0 L1121.0,1101.0 L1122.0,1101.0 L1123.0,1101.0 L1124.0,1101.1 L1125.0,1101.1 L1126.0,1101.1 L1127.0,1101.1 L1128.0,1101.2 L1129.0,1101.2 L1130.0,1101.2 L1131.0,1101.2 L1132.0,1101.3 L1133.0,1101.3 L1134.0,1101.3 L1135.0,1101.3 L1136.0,1101.4 L1137.0,1101.4 L1138.0,1101.4 L1139.0,1101.5 L1140.0,1101.5 L1141.0,1101.5 L1142.0,1101.5 L1143.0,1101.6 L1144.0,1101.6 L1145.0,1101.6 L1146.0,1101.6 L1147.0,1101.7 L1148.0,1101.7 L1149.0,1101.7 L1150.0,1101.7 L1151.0,1101.8 L1152.0,1101.8 L1153.0,1101.8 L1154.0,1101.8 L1155.0,1101.9 L1156.0,1101.9 L1157.0,1101.9 L1158.0,1101.9 L1159.0,1102.0 L1160.0,1102.0 L1161.0,1102.0 L1162.0,1102.0 L1163.0,1102.1 L1164.0,1102.1 L1165.0,1102.1 L1166.0,1102.1 L1167.0,1102.2 L1168.0,1102.2 L1169.0,1102.2 L1170.0,1102.2 L1171.0,1102.3 L1172.0,1102.3 L1173.0,1102.3 L1174.0,1102.3 L1175.0,1102.4 L1176.0,1102.4 L1177.0,1102.4 L1178.0,1102.4 L1179.0,1102.5 L1180.0,1102.5 L1181.0,1102.5 L1182.0,1102.5 L1183.0,1102.6 L1184.0,1102.6 L1185.0,1102.6 L1186.0,1102.6 L1187.0,1102.7 L1188.0,1102.7 L1189.0,1102.7 L1190.0,1102.7 L1191.0,1102.8 L1192.0,1102.8 L1193.0,1102.8 L1194.0,1102.8 L1195.0,1102.9 L1196.0,1102.9 L1197.0,1102.9 L1198.0,1102.9 L1199.0,1103.0 L1200.0,1103.0 L1201.0,1103.0 L1202.0,1103.0 L1203.0,1103.1 L1204.0,1103.1 L1205.0,1103.1 L1206.0,1103.1 L1207.0,1103.2 L1208.0,1103.2 L1209.0,1103.2 L1210.0,1103.2 L1211.0,1103.3 L1212.0,1103.3 L1213.0,1103.3 L1214.0,1103.3 L1215.0,1103.4 L1216.0,1103.4 L1217.0,1103.4 L1218.0,1103.4 L1219.0,1103.5 L1220.0,1103.5 L1221.0,1103.5 L1222.0,1103.5 L1223.0,1103.6 L1224.0,1103.6 L1225.0,1103.6 L1226.0,1103.6 L1227.0,1103.7 L1228.0,1103.7 L1229.0,1103.7 L1230.0,1103.7 L1231.0,1103.8 L1232.0,1103.8 L1233.0,1103.8 L1234.0,1103.8 L1235.0,1103.9 L1236.0,1103.9 L1237.0,1103.9 L1238.0,1103.9 L1239.0,1104.0 L1240.0,1104.0 L1241.0,1104.0 L1242.0,1104.0 L1243.0,1104.1 L1244.0,1104.1 L1245.0,1104.1 L1246.0,1104.1 L1247.0,1104.2 L1248.0,1104.2 L1249.0,1104.2 L1250.0,1104.3 L1251.0,1104.3 L1252.0,1104.3 L1253.0,1104.3 L1254.0,1104.4 L1255.0,1104.4 L1256.0,1104.4 L1257.0,1104.4 L1258.0,1104.5 L1259.0,1104.5 L1260.0,1104.5 L1261.0,1104.5 L1262.0,1104.6 L1263.0,1104.6 L1264.0,1104.6 L1265.0,1104.6 L1266.0,1104.7 L1267.0,1104.7 L1268.0,1104.7 L1269.0,1104.7 L1270.0,1104.8 L1271.0,1104.8 L1272.0,1104.8 L1273.0,1104.8 L1274.0,1104.9 L1275.0,1104.9 L1276.0,1104.9 L1277.0,1104.9 L1278.0,1105.0 L1279.0,1105.0 L1280.0,1105.0 L1281.0,1105.0 L1282.0,1105.1 L1283.0,1105.1 L1284.0,1105.1 L1285.0,1105.1 L1286.0,1105.2 L1287.0,1105.2 L1288.0,1105.2 L1289.0,1105.2 L1290.0,1105.3 L1291.0,1105.3 L1292.0,1105.3 L1293.0,1105.3 L1294.0,1105.4 L1295.0,1105.4 L1296.0,1105.4 L1297.0,1105.4 L1298.0,1105.5 L1299.0,1105.5 L1300.0,1105.5 L1301.0,1105.5 L1302.0,1105.6 L1303.0,1105.6 L1304.0,1105.6 L1305.0,1105.6 L1306.0,1105.7 L1307.0,1105.7 L1308.0,1105.7 L1309.0,1105.7 L1310.0,1105.8 L1311.0,1105.8 L1312.0,1105.8 L1313.0,1105.8 L1314.0,1105.9 L1315.0,1105.9 L1316.0,1105.9 L1317.0,1105.9 L1318.0,1106.0 L1319.0,1106.0 L1320.0,1106.0 L1321.0,1106.0 L1322.0,1106.1 L1323.0,1106.1 L1324.0,1106.1 L1325.0,1106.1 L1326.0,1106.2 L1327.0,1106.2 L1328.0,1106.2 L1329.0,1106.2 L1330.0,1106.3 L1331.0,1106.3 L1332.0,1106.3 L1333.0,1106.3 L1334.0,1106.4 L1335.0,1106.4 L1336.0,1106.4 L1337.0,1106.4 L1338.0,1106.5 L1339.0,1106.5 L1340.0,1106.5 L1341.0,1106.5 L1342.0,1106.6 L1343.0,1106.6 L1344.0,1106.6 L1345.0,1106.6 L1346.0,1106.7 L1347.0,1106.7 L1348.0,1106.7 L1349.0,1106.7 L1350.0,1106.8 L1351.0,1106.8 L1352.0,1106.8 L1353.0,1106.8 L1354.0,1106.9 L1355.0,1106.9 L1356.0,1106.9 L1357.0,1106.9 L1358.0,1107.0 L1359.0,1107.0 L1360.0,1107.0 L1361.0,1107.0 L1362.0,1107.1 L1363.0,1107.1 L1364.0,1107.1 L1365.0,1107.1 L1366.0,1107.2 L1367.0,1107.2 L1368.0,1107.2 L1369.0,1107.2 L1370.0,1107.3 L1371.0,1107.3 L1372.0,1107.3 L1373.0,1107.3 L1374.0,1107.4 L1375.0,1107.4 L1376.0,1107.4 L1377.0,1107.5 L1378.0,1107.5 L1379.0,1107.5 L1380.0,1107.5 L1381.0,1107.6 L1382.0,1107.6 L1383.0,1107.6 L1384.0,1107.6 L1385.0,1107.7 L1386.0,1107.7 L1387.0,1107.7 L1388.0,1107.7 L1389.0,1107.8 L1390.0,1107.8 L1391.0,1107.8 L1392.0,1107.8 L1393.0,1107.9 L1394.0,1107.9 L1395.0,1107.9 L1396.0,1107.9 L1397.0,1108.0 L1398.0,1108.0 L1399.0,1108.0 L1400.0,1108.0 L1401.0,1108.1 L1402.0,1108.1 L1403.0,1108.1 L1404.0,1108.1 L1405.0,1108.2 L1406.0,1108.2 L1407.0,1108.2 L1408.0,1108.2 L1409.0,1108.3 L1410.0,1108.3 L1411.0,1108.3 L1412.0,1108.3 L1413.0,1108.4 L1414.0,1108.4 L1415.0,1108.4 L1416.0,1108.4 L1417.0,1108.5 L1418.0,1108.5 L1419.0,1108.5 L1420.0,1108.5 L1421.0,1108.6 L1422.0,1108.6 L1423.0,1108.6 L1424.0,1108.6 L1425.0,1108.7 L1426.0,1108.7 L1427.0,1108.7 L1428.0,1108.7 L1429.0,1108.8 L1430.0,1108.8 L1431.0,1108.8 L1432.0,1108.8 L1433.0,1108.9 L1434.0,1108.9 L1435.0,1108.9 L1436.0,1108.9 L1437.0,1109.0 L1438.0,1109.0 L1439.0,1109.0 L1440.0,1109.0 L1441.0,1109.1 L1442.0,1109.1 L1443.0,1109.1 L1444.0,1109.1 L1445.0,1109.2 L1446.0,1109.2 L1447.0,1109.2 L1448.0,1109.2 L1449.0,1109.3 L1450.0,1109.3 L1451.0,1109.3 L1452.0,1109.3 L1453.0,1109.4 L1454.0,1109.4 L1455.0,1109.4 L1456.0,1109.4 L1457.0,1109.5 L1458.0,1109.5 L1459.0,1109.5 L1460.0,1109.5 L1461.0,1109.6 L1462.0,1109.6 L1463.0,1109.6 L1464.0,1109.6 L1465.0,1109.7 L1466.0,1109.7 L1467.0,1109.7 L1468.0,1109.7 L1469.0,1109.8 L1470.0,1109.8 L1471.0,1109.8 L1472.0,1109.8 L1473.0,1109.9 L1474.0,1109.9 L1475.0,1109.9 L1476.0,1109.9 L1477.0,1110.0 L1478.0,1110.0 L1479.0,1110.0 L1480.0,1110.0 L1481.0,1110.1 L1482.0,1110.1 L1483.0,1110.1 L1484.0,1110.1 L1485.0,1110.2 L1486.0,1110.2 L1487.0,1110.2 L1488.0,1110.2 L1489.0,1110.3 L1490.0,1110.3 L1491.0,1110.3 L1492.0,1110.3 L1493.0,1110.4 L1494.0,1110.4 L1495.0,1110.4 L1496.0,1110.4 L1497.0,1110.5 L1498.0,1110.5 L1499.0,1110.5 L1500.0,1110.6 L1501.0,1110.6 L1502.0,1110.6 L1503.0,1110.6 L1504.0,1110.7 L1505.0,1110.7 L1506.0,1110.7 L1507.0,1110.7 L1508.0,1110.8 L1509.0,1110.8 L1510.0,1110.8 L1511.0,1110.8 L1512.0,1110.9 L1513.0,1110.9 L1514.0,1110.9 L1515.0,1110.9 L1516.0,1111.0 L1517.0,1111.0 L1518.0,1111.0 L1519.0,1111.0 L1520.0,1111.1 L1521.0,1111.1 L1522.0,1111.1 L1523.0,1111.1 L1524.0,1111.2 L1525.0,1111.2 L1526.0,1111.2 L1527.0,1111.2 L1528.0,1111.3 L1529.0,1111.3 L1530.0,1111.3 L1531.0,1111.3 L1532.0,1111.4 L1533.0,1111.4 L1534.0,1111.4 L1535.0,1111.4 L1536.0,1111.5 L1537.0,1111.5 L1538.0,1111.5 L1539.0,1111.5 L1540.0,1111.6 L1541.0,1111.6 L1542.0,1111.6 L1543.0,1111.6 L1544.0,1111.7 L1545.0,1111.7 L1546.0,1111.7 L1547.0,1111.7 L1548.0,1111.8 L1549.0,1111.8 L1550.0,1111.8 L1551.0,1111.8 L1552.0,1111.9 L1553.0,1111.9 L1554.0,1111.9 L1555.0,1111.9 L1556.0,1112.0 L1557.0,1112.0 L1558.0,1112.0 L1559.0,1112.0 L1560.0,1112.1 L1561.0,1112.1 L1562.0,1112.1 L1563.0,1112.1 L1564.0,1112.2 L1565.0,1112.2 L1566.0,1112.2 L1567.0,1112.2 L1568.0,1112.3 L1569.0,1112.3 L1570.0,1112.3 L1571.0,1112.3 L1572.0,1112.4 L1573.0,1112.4 L1574.0,1112.4 L1575.0,1112.4 L1576.0,1112.5 L1577.0,1112.5 L1578.0,1112.5 L1579.0,1112.5 L1580.0,1112.6 L1581.0,1112.6 L1582.0,1112.6 L1583.0,1112.6 L1584.0,1112.7 L1585.0,1112.7 L1586.0,1112.7 L1587.0,1112.7 L1588.0,1112.8 L1589.0,1112.8 L1590.0,1112.8 L1591.0,1112.8 L1592.0,1112.9 L1593.0,1112.9 L1594.0,1112.9 L1595.0,1112.9 L1596.0,1113.0 L1597.0,1113.0 L1598.0,1113.0" stroke="#960000" stroke-width="5"/>
<path d="M248.0,1079.0 L1598.4,1113.0" stroke="#FF0000" stroke-width="2.2"/>
<path d="M680.0,1091.3 L681.0,1091.3 L682.0,1091.4 L683.0,1091.4 L684.0,1091.5 L685.0,1091.5 L686.0,1091.6 L687.0,1091.6 L688.0,1091.7 L689.0,1091.7 L690.0,1091.8 L691.0,1091.8 L692.0,1091.9 L693.0,1091.9 L694.0,1091.9 L695.0,1092.0 L696.0,1092.0 L697.0,1092.1 L698.0,1092.1 L699.0,1092.1 L700.0,1092.2 L701.0,1092.2 L702.0,1092.3 L703.0,1092.3 L704.0,1092.3 L705.0,1092.4 L706.0,1092.4 L707.0,1092.4 L708.0,1092.5 L709.0,1092.5 L710.0,1092.5 L711.0,1092.6 L712.0,1092.6 L713.0,1092.6 L714.0,1092.7 L715.0,1092.7 L716.0,1092.7 L717.0,1092.7 L718.0,1092.8 L719.0,1092.8 L720.0,1092.8 L721.0,1092.9 L722.0,1092.9 L723.0,1092.9 L724.0,1092.9 L725.0,1093.0 L726.0,1093.0 L727.0,1093.0 L728.0,1093.1 L729.0,1093.1 L730.0,1093.1 L731.0,1093.1 L732.0,1093.2 L733.0,1093.2 L734.0,1093.2 L735.0,1093.3 L736.0,1093.3 L737.0,1093.3 L738.0,1093.3 L739.0,1093.4 L740.0,1093.4 L741.0,1093.4 L742.0,1093.4 L743.0,1093.5 L744.0,1093.5 L745.0,1093.5 L746.0,1093.5 L747.0,1093.6 L748.0,1093.6 L749.0,1093.6 L750.0,1093.6 L751.0,1093.7 L752.0,1093.7 L753.0,1093.7 L754.0,1093.7 L755.0,1093.8 L756.0,1093.8 L757.0,1093.8 L758.0,1093.8 L759.0,1093.9 L760.0,1093.9 L761.0,1093.9 L762.0,1093.9 L763.0,1094.0 L764.0,1094.0 L765.0,1094.0 L766.0,1094.1 L767.0,1094.1 L768.0,1094.1 L769.0,1094.1 L770.0,1094.2 L771.0,1094.2 L772.0,1094.2 L773.0,1094.2 L774.0,1094.3 L775.0,1094.3 L776.0,1094.3 L777.0,1094.3 L778.0,1094.4 L779.0,1094.4 L780.0,1094.4 L781.0,1094.4 L782.0,1094.5 L783.0,1094.5 L784.0,1094.5 L785.0,1094.5 L786.0,1094.6 L787.0,1094.6 L788.0,1094.6 L789.0,1094.6 L790.0,1094.7 L791.0,1094.7 L792.0,1094.7 L793.0,1094.7 L794.0,1094.8 L795.0,1094.8 L796.0,1094.8 L797.0,1094.8 L798.0,1094.9 L799.0,1094.9 L800.0,1094.9 L801.0,1094.9 L802.0,1095.0 L803.0,1095.0 L804.0,1095.0 L805.0,1095.0 L806.0,1095.1 L807.0,1095.1 L808.0,1095.1 L809.0,1095.1 L810.0,1095.2 L811.0,1095.2 L812.0,1095.2 L813.0,1095.2 L814.0,1095.3 L815.0,1095.3 L816.0,1095.3 L817.0,1095.3 L818.0,1095.4 L819.0,1095.4 L820.0,1095.4 L821.0,1095.4 L822.0,1095.5 L823.0,1095.5 L824.0,1095.5 L825.0,1095.5 L826.0,1095.6 L827.0,1095.6 L828.0,1095.6 L829.0,1095.6 L830.0,1095.7 L831.0,1095.7 L832.0,1095.7 L833.0,1095.7 L834.0,1095.8 L835.0,1095.8 L836.0,1095.8 L837.0,1095.8 L838.0,1095.9 L839.0,1095.9 L840.0,1095.9 L841.0,1095.9 L842.0,1096.0 L843.0,1096.0 L844.0,1096.0 L845.0,1096.0 L846.0,1096.1 L847.0,1096.1 L848.0,1096.1 L849.0,1096.1 L850.0,1096.2 L851.0,1096.2 L852.0,1096.2 L853.0,1096.2 L854.0,1096.3 L855.0,1096.3 L856.0,1096.3 L857.0,1096.3 L858.0,1096.4 L859.0,1096.4 L860.0,1096.4 L861.0,1096.4 L862.0,1096.5 L863.0,1096.5 L864.0,1096.5 L865.0,1096.5 L866.0,1096.6 L867.0,1096.6 L868.0,1096.6 L869.0,1096.6 L870.0,1096.7 L871.0,1096.7 L872.0,1096.7 L873.0,1096.7 L874.0,1096.8 L875.0,1096.8 L876.0,1096.8 L877.0,1096.9 L878.0,1096.9 L879.0,1096.9 L880.0,1096.9 L881.0,1097.0 L882.0,1097.0 L883.0,1097.0 L884.0,1097.0 L885.0,1097.1 L886.0,1097.1 L887.0,1097.1 L888.0,1097.1 L889.0,1097.2 L890.0,1097.2 L891.0,1097.2 L892.0,1097.2 L893.0,1097.3 L894.0,1097.3 L895.0,1097.3 L896.0,1097.3 L897.0,1097.4 L898.0,1097.4 L899.0,1097.4 L900.0,1097.4 L901.0,1097.5 L902.0,1097.5 L903.0,1097.5 L904.0,1097.5 L905.0,1097.6 L906.0,1097.6 L907.0,1097.6 L908.0,1097.6 L909.0,1097.7 L910.0,1097.7 L911.0,1097.7 L912.0,1097.7 L913.0,1097.8 L914.0,1097.8 L915.0,1097.8 L916.0,1097.8 L917.0,1097.9 L918.0,1097.9 L919.0,1097.9 L920.0,1097.9 L921.0,1098.0 L922.0,1098.0 L923.0,1098.0 L924.0,1098.0 L925.0,1098.1 L926.0,1098.1 L927.0,1098.1 L928.0,1098.1 L929.0,1098.2 L930.0,1098.2 L931.0,1098.2 L932.0,1098.2 L933.0,1098.3 L934.0,1098.3 L935.0,1098.3 L936.0,1098.3 L937.0,1098.4 L938.0,1098.4 L939.0,1098.4 L940.0,1098.4 L941.0,1098.5 L942.0,1098.5 L943.0,1098.5 L944.0,1098.5 L945.0,1098.6 L946.0,1098.6 L947.0,1098.6 L948.0,1098.6 L949.0,1098.7 L950.0,1098.7 L951.0,1098.7 L952.0,1098.7 L953.0,1098.8 L954.0,1098.8 L955.0,1098.8 L956.0,1098.8 L957.0,1098.9 L958.0,1098.9 L959.0,1098.9 L960.0,1098.9 L961.0,1099.0 L962.0,1099.0 L963.0,1099.0 L964.0,1099.0 L965.0,1099.1 L966.0,1099.1 L967.0,1099.1 L968.0,1099.1 L969.0,1099.2 L970.0,1099.2 L971.0,1099.2 L972.0,1099.2 L973.0,1099.3 L974.0,1099.3 L975.0,1099.3 L976.0,1099.3 L977.0,1099.4 L978.0,1099.4 L979.0,1099.4 L980.0,1099.4 L981.0,1099.5 L982.0,1099.5 L983.0,1099.5 L984.0,1099.5 L985.0,1099.6 L986.0,1099.6 L987.0,1099.6 L988.0,1099.6 L989.0,1099.7 L990.0,1099.7 L991.0,1099.7 L992.0,1099.7 L993.0,1099.8 L994.0,1099.8 L995.0,1099.8 L996.0,1099.8 L997.0,1099.9 L998.0,1099.9 L999.0,1099.9 L1000.0,1100.0 L1001.0,1100.0 L1002.0,1100.0 L1003.0,1100.0 L1004.0,1100.1 L1005.0,1100.1 L1006.0,1100.1 L1007.0,1100.1 L1008.0,1100.2 L1009.0,1100.2 L1010.0,1100.2 L1011.0,1100.2 L1012.0,1100.3 L1013.0,1100.3 L1014.0,1100.3 L1015.0,1100.3 L1016.0,1100.4 L1017.0,1100.4 L1018.0,1100.4 L1019.0,1100.4 L1020.0,1100.5 L1021.0,1100.5 L1022.0,1100.5 L1023.0,1100.5 L1024.0,1100.6" stroke="#A000FF" stroke-width="2.2"/>
<path d="M367.0,1083.8 L368.0,1083.8 L369.0,1083.8 L370.0,1083.9 L371.0,1083.9 L372.0,1083.9 L373.0,1083.9 L374.0,1084.0 L375.0,1084.0 L376.0,1084.0 L377.0,1084.1 L378.0,1084.1 L379.0,1084.1 L380.0,1084.1 L381.0,1084.2 L382.0,1084.2 L383.0,1084.2 L384.0,1084.2 L385.0,1084.3 L386.0,1084.3 L387.0,1084.3 L388.0,1084.3 L389.0,1084.4 L390.0,1084.4 L391.0,1084.4 L392.0,1084.4 L393.0,1084.5 L394.0,1084.5 L395.0,1084.5 L396.0,1084.5 L397.0,1084.6 L398.0,1084.6 L399.0,1084.6 L400.0,1084.6 L401.0,1084.7 L402.0,1084.7 L403.0,1084.7 L404.0,1084.7 L405.0,1084.8 L406.0,1084.8 L407.0,1084.8 L408.0,1084.8 L409.0,1084.9 L410.0,1084.9 L411.0,1084.9 L412.0,1084.9 L413.0,1085.0 L414.0,1085.0 L415.0,1085.0 L416.0,1085.0 L417.0,1085.1 L418.0,1085.1 L419.0,1085.1 L420.0,1085.1 L421.0,1085.1 L422.0,1085.2 L423.0,1085.2 L424.0,1085.2 L425.0,1085.2 L426.0,1085.3 L427.0,1085.3 L428.0,1085.3 L429.0,1085.3 L430.0,1085.4 L431.0,1085.4 L432.0,1085.4 L433.0,1085.4 L434.0,1085.5 L435.0,1085.5 L436.0,1085.5 L437.0,1085.5 L438.0,1085.6 L439.0,1085.6 L440.0,1085.6 L441.0,1085.6 L442.0,1085.6 L443.0,1085.7 L444.0,1085.7 L445.0,1085.7 L446.0,1085.7 L447.0,1085.8 L448.0,1085.8 L449.0,1085.8 L450.0,1085.8 L451.0,1085.8 L452.0,1085.9 L453.0,1085.9 L454.0,1085.9 L455.0,1085.9 L456.0,1085.9 L457.0,1086.0 L458.0,1086.0 L459.0,1086.0 L460.0,1086.0 L461.0,1086.0 L462.0,1086.1 L463.0,1086.1 L464.0,1086.1 L465.0,1086.1 L466.0,1086.1 L467.0,1086.1 L468.0,1086.1 L469.0,1086.2 L470.0,1086.2 L471.0,1086.2 L472.0,1086.2 L473.0,1086.2 L474.0,1086.2 L475.0,1086.2 L476.0,1086.2 L477.0,1086.2 L478.0,1086.3 L479.0,1086.3 L480.0,1086.3 L481.0,1086.3 L482.0,1086.3 L483.0,1086.3 L484.0,1086.3 L485.0,1086.3 L486.0,1086.3 L487.0,1086.3 L488.0,1086.3 L489.0,1086.2 L490.0,1086.2 L491.0,1086.2 L492.0,1086.2 L493.0,1086.2 L494.0,1086.2 L495.0,1086.2 L496.0,1086.1 L497.0,1086.1 L498.0,1086.1 L499.0,1086.1 L500.0,1086.0 L501.0,1086.0 L502.0,1086.0 L503.0,1085.9 L504.0,1085.9 L505.0,1085.8 L506.0,1085.8 L507.0,1085.7 L508.0,1085.7 L509.0,1085.6 L510.0,1085.6 L511.0,1085.5 L512.0,1085.4 L513.0,1085.3 L514.0,1085.3 L515.0,1085.2 L516.0,1085.1 L517.0,1085.0 L518.0,1084.9 L519.0,1084.8 L520.0,1084.7" stroke="#FF0080" stroke-width="2.0"/>
</g>
<g stroke="#FF0000" stroke-width="3.4">
<line x1="763.0" y1="188.3" x2="763.0" y2="231.6"/>
<line x1="510.0" y1="1009.8" x2="510.0" y2="1048.8"/>
</g>
<g stroke="#000" stroke-width="3.4" fill="none" stroke-linecap="square">
<rect x="248.0" y="27.3" width="1350.4" height="1095.3"/>
</g>
<g stroke="#000" stroke-width="3" fill="none">
<line x1="248.3" y1="1122.6" x2="248.3" y2="1145.5"/>
<line x1="248.3" y1="27.3" x2="248.3" y2="48.9"/>
<line x1="585.8" y1="1122.6" x2="585.8" y2="1145.5"/>
<line x1="585.8" y1="27.3" x2="585.8" y2="48.9"/>
<line x1="923.4" y1="1122.6" x2="923.4" y2="1145.5"/>
<line x1="923.4" y1="27.3" x2="923.4" y2="48.9"/>
<line x1="1260.9" y1="1122.6" x2="1260.9" y2="1145.5"/>
<line x1="1260.9" y1="27.3" x2="1260.9" y2="48.9"/>
<line x1="1598.4" y1="1122.6" x2="1598.4" y2="1145.5"/>
<line x1="1598.4" y1="27.3" x2="1598.4" y2="48.9"/>
<line x1="417.1" y1="1122.6" x2="417.1" y2="1135.6"/>
<line x1="417.1" y1="27.3" x2="417.1" y2="39.5"/>
<line x1="754.6" y1="1122.6" x2="754.6" y2="1135.6"/>
<line x1="754.6" y1="27.3" x2="754.6" y2="39.5"/>
<line x1="1092.1" y1="1122.6" x2="1092.1" y2="1135.6"/>
<line x1="1092.1" y1="27.3" x2="1092.1" y2="39.5"/>
<line x1="1429.6" y1="1122.6" x2="1429.6" y2="1135.6"/>
<line x1="1429.6" y1="27.3" x2="1429.6" y2="39.5"/>
<line x1="228" y1="1123.3" x2="248.0" y2="1123.3"/>
<line x1="1598.4" y1="1123.3" x2="1578" y2="1123.3"/>
<line x1="228" y1="830.9" x2="248.0" y2="830.9"/>
<line x1="1598.4" y1="830.9" x2="1578" y2="830.9"/>
<line x1="228" y1="538.5" x2="248.0" y2="538.5"/>
<line x1="1598.4" y1="538.5" x2="1578" y2="538.5"/>
<line x1="228" y1="246.1" x2="248.0" y2="246.1"/>
<line x1="1598.4" y1="246.1" x2="1578" y2="246.1"/>
<line x1="239.5" y1="977.1" x2="248.0" y2="977.1"/>
<line x1="1598.4" y1="977.1" x2="1587.7" y2="977.1"/>
<line x1="239.5" y1="684.7" x2="248.0" y2="684.7"/>
<line x1="1598.4" y1="684.7" x2="1587.7" y2="684.7"/>
<line x1="239.5" y1="392.3" x2="248.0" y2="392.3"/>
<line x1="1598.4" y1="392.3" x2="1587.7" y2="392.3"/>
<line x1="239.5" y1="99.9" x2="248.0" y2="99.9"/>
<line x1="1598.4" y1="99.9" x2="1587.7" y2="99.9"/>
</g>
<g font-family="'Liberation Sans', Arial, sans-serif" font-size="45" text-anchor="middle" fill="#000">
<text transform="translate(248.3,1193.4) scale(1,1.070)">11</text>
<text transform="translate(585.8,1193.4) scale(1,1.070)">12</text>
<text transform="translate(923.4,1193.4) scale(1,1.070)">13</text>
<text transform="translate(1260.9,1193.4) scale(1,1.070)">14</text>
<text transform="translate(1598.4,1193.4) scale(1,1.070)">15</text>
</g>
<g font-family="'Liberation Sans', Arial, sans-serif" font-size="45" text-anchor="end" fill="#000">
<text transform="translate(212.5,1137.0) scale(1,1.070)">0</text>
<text transform="translate(213.8,847.7) scale(1,1.070)">2x10<tspan font-size="28" dy="-19.5">7</tspan></text>
<text transform="translate(213.8,556.1) scale(1,1.070)">4x10<tspan font-size="28" dy="-19.5">7</tspan></text>
<text transform="translate(213.8,263.7) scale(1,1.070)">6x10<tspan font-size="28" dy="-19.5">7</tspan></text>
</g>
<text font-family="'Liberation Sans', Arial, sans-serif" font-size="50" transform="translate(67.2,608.2) rotate(-90) scale(1,1.055)" text-anchor="middle">Intensity (a.u.)</text>
<text font-family="'Liberation Sans', Arial, sans-serif" font-size="50" transform="translate(0,1254.3) scale(1,1.04)"><tspan x="807.5">Qxy</tspan><tspan x="909.2">(nm</tspan><tspan x="995.8" font-size="28.6" dy="-24.6">-1</tspan><tspan x="1024.7" dy="24.6">)</tspan></text>
<text font-family="'Liberation Sans', Arial, sans-serif" font-size="45" transform="translate(777.3,183.9) rotate(-90) scale(1,1.070)">12,52</text>
<text font-family="'Liberation Sans', Arial, sans-serif" font-size="45" transform="translate(526.8,1001.0) rotate(-90) scale(1,1.070)">11,775</text>
<circle cx="898.5" cy="123.4" r="2.6" fill="#960000"/>
<line x1="853.4" y1="172.2" x2="945.4" y2="172.2" stroke="#A000FF" stroke-width="3.5"/>
<line x1="853.4" y1="221" x2="945.4" y2="221" stroke="#FF0080" stroke-width="2.6"/>
<line x1="852.2" y1="270.8" x2="946.8" y2="270.8" stroke="#960000" stroke-width="5"/>
<line x1="853" y1="318.8" x2="943.7" y2="318.8" stroke="#FF0000" stroke-width="2"/>
<line x1="898.5" y1="349.3" x2="898.5" y2="388" stroke="#FF0000" stroke-width="3"/>
<g font-family="'Liberation Sans', Arial, sans-serif" font-size="39.8" fill="#000">
<text transform="translate(943.4,135.9) scale(1,1.03)">Calculated Diffraction Spectra</text>
<text transform="translate(955.0,183.9) scale(1,1.03)">Gaussian Fit 1</text>
<text transform="translate(955.0,232.9) scale(1,1.03)">Gaussian Fit 2</text>
<text transform="translate(954.6,284.1) scale(1,1.03)">Cumulative Gaussian Fitting Curve</text>
<text transform="translate(955.0,332.9) scale(1,1.03)">Fitting Baseline</text>
<text transform="translate(955.0,381.5) scale(1,1.03)">Peak Centers</text>
</g>
</svg>
</body></html>
